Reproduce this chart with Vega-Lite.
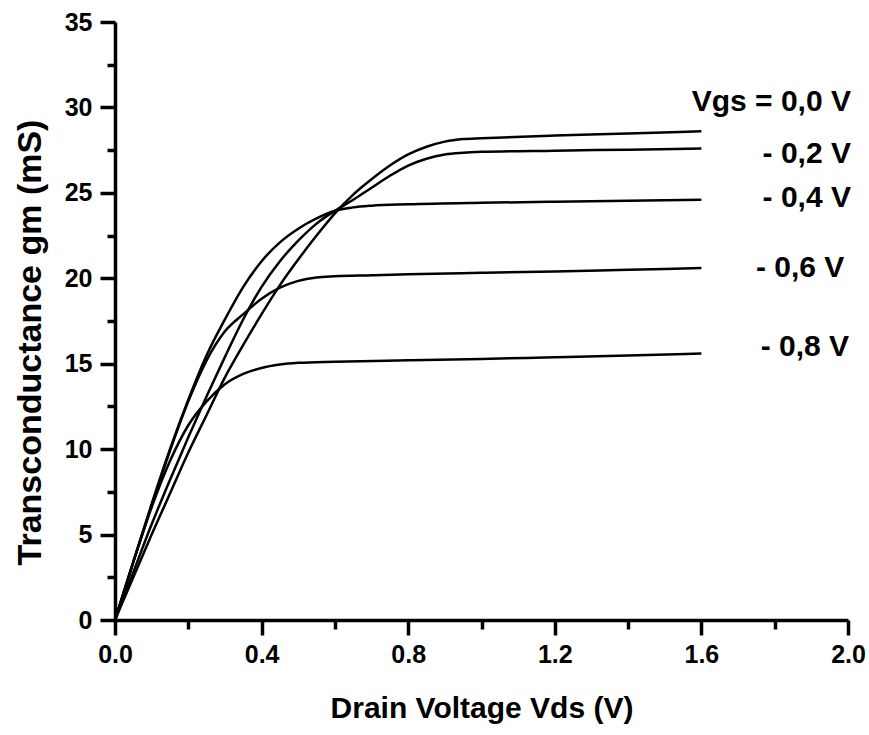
{
  "$schema": "https://vega.github.io/schema/vega-lite/v6.json",
  "autosize": "none",
  "width": 733,
  "height": 598,
  "padding": {"left": 115, "top": 22, "right": 21, "bottom": 115},
  "background": "white",
  "config": {
    "view": {"stroke": null},
    "axis": {"grid": false}
  },
  "datasets": {
    "curves": [
      {"vgs": "0.0", "vds": 0, "gm": 0}, {"vgs": "0.0", "vds": 0.05, "gm": 2.5}, {"vgs": "0.0", "vds": 0.1, "gm": 5.0}, {"vgs": "0.0", "vds": 0.15, "gm": 7.4}, {"vgs": "0.0", "vds": 0.2, "gm": 9.8}, {"vgs": "0.0", "vds": 0.25, "gm": 12.0}, {"vgs": "0.0", "vds": 0.3, "gm": 14.2}, {"vgs": "0.0", "vds": 0.35, "gm": 16.1}, {"vgs": "0.0", "vds": 0.4, "gm": 17.9}, {"vgs": "0.0", "vds": 0.45, "gm": 19.6}, {"vgs": "0.0", "vds": 0.5, "gm": 21.1}, {"vgs": "0.0", "vds": 0.55, "gm": 22.5}, {"vgs": "0.0", "vds": 0.6, "gm": 23.8}, {"vgs": "0.0", "vds": 0.65, "gm": 24.9}, {"vgs": "0.0", "vds": 0.7, "gm": 25.8}, {"vgs": "0.0", "vds": 0.75, "gm": 26.6}, {"vgs": "0.0", "vds": 0.8, "gm": 27.25}, {"vgs": "0.0", "vds": 0.85, "gm": 27.7}, {"vgs": "0.0", "vds": 0.9, "gm": 28.0}, {"vgs": "0.0", "vds": 0.95, "gm": 28.15}, {"vgs": "0.0", "vds": 1.0, "gm": 28.2}, {"vgs": "0.0", "vds": 1.2, "gm": 28.35}, {"vgs": "0.0", "vds": 1.4, "gm": 28.47}, {"vgs": "0.0", "vds": 1.6, "gm": 28.6},
      {"vgs": "-0.2", "vds": 0, "gm": 0}, {"vgs": "-0.2", "vds": 0.05, "gm": 2.8}, {"vgs": "-0.2", "vds": 0.1, "gm": 5.6}, {"vgs": "-0.2", "vds": 0.15, "gm": 8.2}, {"vgs": "-0.2", "vds": 0.2, "gm": 10.7}, {"vgs": "-0.2", "vds": 0.25, "gm": 13.1}, {"vgs": "-0.2", "vds": 0.3, "gm": 15.4}, {"vgs": "-0.2", "vds": 0.35, "gm": 17.6}, {"vgs": "-0.2", "vds": 0.4, "gm": 19.5}, {"vgs": "-0.2", "vds": 0.45, "gm": 21.0}, {"vgs": "-0.2", "vds": 0.5, "gm": 22.2}, {"vgs": "-0.2", "vds": 0.55, "gm": 23.2}, {"vgs": "-0.2", "vds": 0.6, "gm": 23.95}, {"vgs": "-0.2", "vds": 0.65, "gm": 24.6}, {"vgs": "-0.2", "vds": 0.7, "gm": 25.3}, {"vgs": "-0.2", "vds": 0.75, "gm": 26.0}, {"vgs": "-0.2", "vds": 0.8, "gm": 26.6}, {"vgs": "-0.2", "vds": 0.85, "gm": 27.0}, {"vgs": "-0.2", "vds": 0.9, "gm": 27.25}, {"vgs": "-0.2", "vds": 0.95, "gm": 27.35}, {"vgs": "-0.2", "vds": 1.0, "gm": 27.4}, {"vgs": "-0.2", "vds": 1.2, "gm": 27.47}, {"vgs": "-0.2", "vds": 1.4, "gm": 27.53}, {"vgs": "-0.2", "vds": 1.6, "gm": 27.6},
      {"vgs": "-0.4", "vds": 0, "gm": 0}, {"vgs": "-0.4", "vds": 0.05, "gm": 3.4}, {"vgs": "-0.4", "vds": 0.1, "gm": 6.8}, {"vgs": "-0.4", "vds": 0.15, "gm": 10.0}, {"vgs": "-0.4", "vds": 0.2, "gm": 12.9}, {"vgs": "-0.4", "vds": 0.25, "gm": 15.5}, {"vgs": "-0.4", "vds": 0.3, "gm": 17.6}, {"vgs": "-0.4", "vds": 0.35, "gm": 19.5}, {"vgs": "-0.4", "vds": 0.4, "gm": 21.0}, {"vgs": "-0.4", "vds": 0.45, "gm": 22.1}, {"vgs": "-0.4", "vds": 0.5, "gm": 22.9}, {"vgs": "-0.4", "vds": 0.55, "gm": 23.5}, {"vgs": "-0.4", "vds": 0.6, "gm": 23.95}, {"vgs": "-0.4", "vds": 0.65, "gm": 24.15}, {"vgs": "-0.4", "vds": 0.7, "gm": 24.25}, {"vgs": "-0.4", "vds": 0.8, "gm": 24.33}, {"vgs": "-0.4", "vds": 1.0, "gm": 24.42}, {"vgs": "-0.4", "vds": 1.2, "gm": 24.48}, {"vgs": "-0.4", "vds": 1.4, "gm": 24.54}, {"vgs": "-0.4", "vds": 1.6, "gm": 24.6},
      {"vgs": "-0.6", "vds": 0, "gm": 0}, {"vgs": "-0.6", "vds": 0.05, "gm": 3.4}, {"vgs": "-0.6", "vds": 0.1, "gm": 6.7}, {"vgs": "-0.6", "vds": 0.15, "gm": 9.9}, {"vgs": "-0.6", "vds": 0.2, "gm": 12.8}, {"vgs": "-0.6", "vds": 0.25, "gm": 15.2}, {"vgs": "-0.6", "vds": 0.3, "gm": 16.9}, {"vgs": "-0.6", "vds": 0.35, "gm": 17.9}, {"vgs": "-0.6", "vds": 0.4, "gm": 18.8}, {"vgs": "-0.6", "vds": 0.45, "gm": 19.45}, {"vgs": "-0.6", "vds": 0.5, "gm": 19.85}, {"vgs": "-0.6", "vds": 0.55, "gm": 20.05}, {"vgs": "-0.6", "vds": 0.6, "gm": 20.12}, {"vgs": "-0.6", "vds": 0.7, "gm": 20.18}, {"vgs": "-0.6", "vds": 0.8, "gm": 20.24}, {"vgs": "-0.6", "vds": 1.0, "gm": 20.32}, {"vgs": "-0.6", "vds": 1.2, "gm": 20.4}, {"vgs": "-0.6", "vds": 1.4, "gm": 20.5}, {"vgs": "-0.6", "vds": 1.6, "gm": 20.6},
      {"vgs": "-0.8", "vds": 0, "gm": 0}, {"vgs": "-0.8", "vds": 0.05, "gm": 3.4}, {"vgs": "-0.8", "vds": 0.1, "gm": 6.6}, {"vgs": "-0.8", "vds": 0.15, "gm": 9.3}, {"vgs": "-0.8", "vds": 0.2, "gm": 11.4}, {"vgs": "-0.8", "vds": 0.25, "gm": 12.8}, {"vgs": "-0.8", "vds": 0.3, "gm": 13.8}, {"vgs": "-0.8", "vds": 0.35, "gm": 14.4}, {"vgs": "-0.8", "vds": 0.4, "gm": 14.75}, {"vgs": "-0.8", "vds": 0.45, "gm": 14.95}, {"vgs": "-0.8", "vds": 0.5, "gm": 15.05}, {"vgs": "-0.8", "vds": 0.6, "gm": 15.12}, {"vgs": "-0.8", "vds": 0.8, "gm": 15.2}, {"vgs": "-0.8", "vds": 1.0, "gm": 15.28}, {"vgs": "-0.8", "vds": 1.2, "gm": 15.38}, {"vgs": "-0.8", "vds": 1.4, "gm": 15.48}, {"vgs": "-0.8", "vds": 1.6, "gm": 15.6}
    ],
    "labels": [
      {"label": "Vgs = 0,0 V", "x": 2.008, "y": 30.3},
      {"label": "- 0,2 V", "x": 2.008, "y": 27.3},
      {"label": "- 0,4 V", "x": 2.008, "y": 24.7},
      {"label": "- 0,6 V", "x": 1.99, "y": 20.6},
      {"label": "- 0,8 V", "x": 2.003, "y": 16.0}
    ]
  },
  "layer": [
    {
      "data": {"name": "curves"},
      "mark": {"type": "line", "color": "black", "strokeWidth": 2.5, "interpolate": "monotone"},
      "encoding": {
        "x": {"field": "vds", "type": "quantitative", "scale": {"domain": [0, 2]},
          "axis": {"values": [0, 0.4, 0.8, 1.2, 1.6, 2.0], "format": ".1f", "tickSize": 15, "tickWidth": 3.5, "tickColor": "black", "domainWidth": 3.5, "domainColor": "black", "labelPadding": 7, "labelFont": "Liberation Sans", "labelFontWeight": "bold", "labelFontSize": 25, "labelColor": "black", "title": "Drain Voltage Vds (V)", "titleFont": "Liberation Sans", "titleFontWeight": "bold", "titleColor": "black", "titleFontSize": 30, "titlePadding": 26, "labelFlush": false}},
        "y": {"field": "gm", "type": "quantitative", "scale": {"domain": [0, 35]},
          "axis": {"values": [0, 5, 10, 15, 20, 25, 30, 35], "tickSize": 15, "tickWidth": 3.5, "tickColor": "black", "domainWidth": 3.5, "domainColor": "black", "labelPadding": 8, "labelFont": "Liberation Sans", "labelFontWeight": "bold", "labelFontSize": 25, "labelColor": "black", "title": "Transconductance gm (mS)", "titleFont": "Liberation Sans", "titleFontWeight": "bold", "titleColor": "black", "titleFontSize": 34, "titlePadding": 17, "titleY": 320, "labelFlush": false}},
        "detail": {"field": "vgs"}
      }
    },
    {
      "data": {"name": "labels"},
      "mark": {"type": "text", "align": "right", "baseline": "middle", "font": "Liberation Sans", "fontWeight": "bold", "fontSize": 30, "color": "black"},
      "encoding": {
        "x": {"field": "x", "type": "quantitative", "axis": {"orient": "bottom", "values": [0.2, 0.6, 1.0, 1.4, 1.8], "tickSize": 9, "tickWidth": 3.5, "tickColor": "black", "labels": false, "domain": false, "title": null}},
        "y": {"field": "y", "type": "quantitative", "axis": {"orient": "left", "values": [2.5, 7.5, 12.5, 17.5, 22.5, 27.5, 32.5], "tickSize": 8, "tickWidth": 3.5, "tickColor": "black", "labels": false, "domain": false, "title": null}},
        "text": {"field": "label"}
      }
    }
  ],
  "resolve": {"axis": {"x": "independent", "y": "independent"}}
}
